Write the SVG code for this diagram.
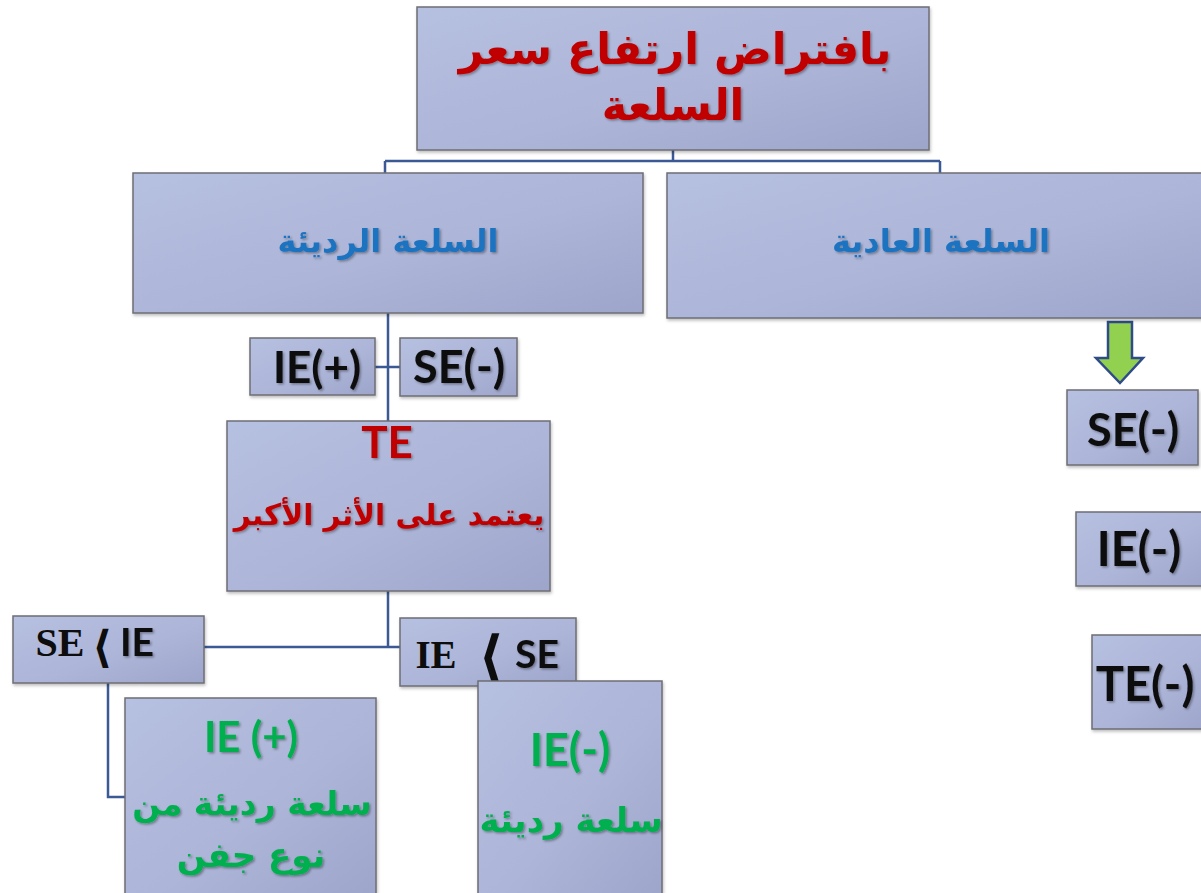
<svg xmlns="http://www.w3.org/2000/svg" width="1201" height="893" viewBox="0 0 1201 893">
<defs>
<linearGradient id="g" x1="0" y1="0" x2="1" y2="1">
<stop offset="0" stop-color="#b6c0e0"/>
<stop offset="0.55" stop-color="#adb5d8"/>
<stop offset="1" stop-color="#9da5cb"/>
</linearGradient>
<filter id="ts" x="-10%" y="-20%" width="120%" height="150%">
<feDropShadow dx="1.5" dy="1.5" stdDeviation="1" flood-color="#000" flood-opacity="0.35"/>
</filter>
<filter id="bs" x="-5%" y="-5%" width="110%" height="115%">
<feDropShadow dx="1" dy="2" stdDeviation="1.5" flood-color="#000" flood-opacity="0.25"/>
</filter>
</defs>
<style>
.box{fill:url(#g);stroke:#6e6e74;stroke-width:1.5;filter:url(#bs)}
.con{fill:none;stroke:#3b5a95;stroke-width:2.5}
.ar{font-family:"DejaVu Sans",sans-serif;font-weight:bold;text-anchor:middle;filter:url(#ts)}
.la{font-family:Lato,"Open Sans",sans-serif;font-weight:bold;text-anchor:middle;filter:url(#ts)}
.se{font-family:"Liberation Serif",serif;font-weight:bold;text-anchor:middle}
.br{font-family:"DejaVu Sans",sans-serif;font-weight:bold;text-anchor:middle}
.red{fill:#c00000}
.blue{fill:#1f73c0}
.green{fill:#00b050}
.blk{fill:#0d0d0d}
</style>
<rect width="1201" height="893" fill="#fff"/>
<g id="connectors">
<path class="con" d="M673 150V161M385 161H940M385 161V173M940 161V173"/>
<path class="con" d="M388 313V421M375 367H400"/>
<path class="con" d="M388 591V647H400M204 647H388"/>
<path class="con" d="M108 683V797H125"/>
<path d="M1108 322H1132V358H1143L1120 383L1096 358H1108Z" fill="#92d050" stroke="#2f4b8a" stroke-width="2.5" stroke-linejoin="miter"/>
</g>
<g id="n-root">
<rect class="box" x="417" y="7" width="512" height="143"/>
<text class="ar red" x="675" y="64" font-size="43">بافتراض ارتفاع سعر</text>
<text class="ar red" x="673" y="120" font-size="43">السلعة</text>
</g>
<g id="n-inferior">
<rect class="box" x="133" y="173" width="510" height="140"/>
<text class="ar blue" x="388" y="252" font-size="32">السلعة الرديئة</text>
</g>
<g id="n-normal">
<rect class="box" x="667" y="173" width="536" height="145"/>
<text class="ar blue" x="941" y="252" font-size="32">السلعة العادية</text>
</g>
<g id="n-ie-plus">
<rect class="box" x="250" y="338" width="125" height="57"/>
<text class="la blk" x="317" y="383" font-size="44">IE(+)</text>
</g>
<g id="n-se-minus">
<rect class="box" x="400" y="338" width="117" height="58"/>
<text class="la blk" x="459" y="383" font-size="45">SE(-)</text>
</g>
<g id="n-te">
<rect class="box" x="227" y="421" width="323" height="170"/>
<text class="la red" x="387" y="458" font-size="44">TE</text>
<text class="ar red" x="389" y="525" font-size="29.5">يعتمد على الأثر الأكبر</text>
</g>
<g id="n-se-lt-ie">
<rect class="box" x="13" y="616" width="191" height="67"/>
<text class="se blk" x="60" y="656" font-size="40">SE</text>
<text class="br blk" x="102" y="662" font-size="44">⟨</text>
<text class="la blk" x="137" y="656" font-size="39">IE</text>
</g>
<g id="n-ie-lt-se">
<rect class="box" x="400" y="618" width="176" height="68"/>
<text class="se blk" x="436" y="668" font-size="39">IE</text>
<text class="br blk" x="491" y="676" font-size="56">⟨</text>
<text class="la blk" x="537" y="668" font-size="39">SE</text>
</g>
<g id="n-giffen">
<rect class="box" x="125" y="698" width="251" height="200"/>
<text class="la green" x="251" y="752" font-size="42">IE (+)</text>
<text class="ar green" x="252" y="815" font-size="33">سلعة رديئة من</text>
<text class="ar green" x="251" y="867" font-size="34">نوع جفن</text>
</g>
<g id="n-inferior2">
<rect class="box" x="478" y="681" width="184" height="217"/>
<text class="la green" x="570" y="766" font-size="45">IE(-)</text>
<text class="ar green" x="571" y="832" font-size="34">سلعة رديئة</text>
</g>
<g id="n-se-r">
<rect class="box" x="1067" y="390" width="131" height="75"/>
<text class="la blk" x="1133" y="446" font-size="45">SE(-)</text>
</g>
<g id="n-ie-r">
<rect class="box" x="1076" y="512" width="128" height="74"/>
<text class="la blk" x="1139" y="566" font-size="47">IE(-)</text>
</g>
<g id="n-te-r">
<rect class="box" x="1092" y="635" width="115" height="94"/>
<text class="la blk" x="1145" y="701" font-size="47">TE(-)</text>
</g>
</svg>
